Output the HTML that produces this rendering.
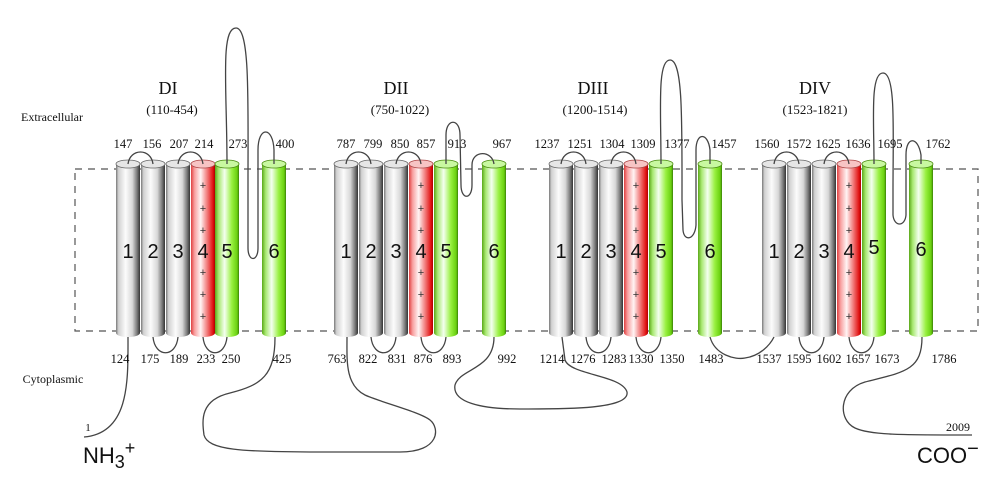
<!DOCTYPE html>
<html><head><meta charset="utf-8"><style>
html,body{margin:0;padding:0;background:#fff;}
svg{display:block;}
.n{font-family:"Liberation Serif",serif;font-size:12.5px;fill:#111;text-anchor:middle;}
.t{font-family:"Liberation Serif",serif;font-size:18px;fill:#111;text-anchor:middle;}
.r{font-family:"Liberation Serif",serif;font-size:13px;fill:#111;text-anchor:middle;}
.c{font-family:"Liberation Sans",sans-serif;font-size:20px;fill:#111;text-anchor:middle;}
.p{font-family:"Liberation Sans",sans-serif;font-size:11px;fill:#333;text-anchor:middle;}
.l{fill:none;stroke:#444;stroke-width:1.3;}
</style></head><body>
<svg width="1000" height="500" viewBox="0 0 1000 500" xmlns="http://www.w3.org/2000/svg">
<defs>
<linearGradient id="gg" x1="0" x2="1" y1="0" y2="0">
<stop offset="0" stop-color="#777"/><stop offset="0.1" stop-color="#d0d0d0"/><stop offset="0.4" stop-color="#fcfcfc"/><stop offset="0.68" stop-color="#d8d8d8"/><stop offset="0.88" stop-color="#777"/><stop offset="1" stop-color="#333"/>
</linearGradient>
<linearGradient id="gr" x1="0" x2="1" y1="0" y2="0">
<stop offset="0" stop-color="#e04040"/><stop offset="0.15" stop-color="#f8a0a0"/><stop offset="0.4" stop-color="#fff4f4"/><stop offset="0.7" stop-color="#f07070"/><stop offset="0.92" stop-color="#e01010"/><stop offset="1" stop-color="#a00"/>
</linearGradient>
<linearGradient id="gn" x1="0" x2="1" y1="0" y2="0">
<stop offset="0" stop-color="#5aa818"/><stop offset="0.15" stop-color="#a8e870"/><stop offset="0.4" stop-color="#f4fff0"/><stop offset="0.7" stop-color="#98f040"/><stop offset="0.92" stop-color="#6ad010"/><stop offset="1" stop-color="#3a8008"/>
</linearGradient>
<g id="cg"><rect x="0" y="164" width="24" height="169" fill="url(#gg)"/><ellipse cx="12" cy="333" rx="12" ry="4" fill="url(#gg)"/><ellipse cx="12" cy="164" rx="12" ry="4" fill="#e6e6e6" stroke="#666" stroke-width="0.8"/></g>
<g id="cr"><rect x="0" y="164" width="24" height="169" fill="url(#gr)"/><ellipse cx="12" cy="333" rx="12" ry="4" fill="url(#gr)"/><ellipse cx="12" cy="164" rx="12" ry="4" fill="#f7c4c4" stroke="#a44" stroke-width="0.8"/>
<text class="p" x="12" y="189">+</text><text class="p" x="12" y="212">+</text><text class="p" x="12" y="234">+</text><text class="p" x="12" y="276">+</text><text class="p" x="12" y="298">+</text><text class="p" x="12" y="320">+</text></g>
<g id="cn"><rect x="0" y="164" width="24" height="169" fill="url(#gn)"/><ellipse cx="12" cy="333" rx="12" ry="4" fill="url(#gn)"/><ellipse cx="12" cy="164" rx="12" ry="4" fill="#c8f8a0" stroke="#4a8a10" stroke-width="0.8"/></g>
</defs>

<rect x="75" y="169" width="903" height="162" fill="none" stroke="#555" stroke-width="1.2" stroke-dasharray="7 6"/>

<use href="#cg" x="116"/><use href="#cg" x="141"/><use href="#cg" x="166"/><use href="#cr" x="191"/><use href="#cn" x="215"/><use href="#cn" x="262"/>
<use href="#cg" x="334"/><use href="#cg" x="359"/><use href="#cg" x="384"/><use href="#cr" x="409"/><use href="#cn" x="434"/><use href="#cn" x="482"/>
<use href="#cg" x="549"/><use href="#cg" x="574"/><use href="#cg" x="599"/><use href="#cr" x="624"/><use href="#cn" x="649"/><use href="#cn" x="698"/>
<use href="#cg" x="762"/><use href="#cg" x="787"/><use href="#cg" x="812"/><use href="#cr" x="837"/><use href="#cn" x="862"/><use href="#cn" x="909"/>

<g class="c">
<text x="128" y="258">1</text><text x="153" y="258">2</text><text x="178" y="258">3</text><text x="203" y="258">4</text><text x="227" y="258">5</text><text x="274" y="258">6</text>
<text x="346" y="258">1</text><text x="371" y="258">2</text><text x="396" y="258">3</text><text x="421" y="258">4</text><text x="446" y="258">5</text><text x="494" y="258">6</text>
<text x="561" y="258">1</text><text x="586" y="258">2</text><text x="611" y="258">3</text><text x="636" y="258">4</text><text x="661" y="258">5</text><text x="710" y="258">6</text>
<text x="774" y="258">1</text><text x="799" y="258">2</text><text x="824" y="258">3</text><text x="849" y="258">4</text><text x="874" y="254">5</text><text x="921" y="256">6</text>
</g>

<g class="l">
<path d="M128,164 C130,148 151,148 153,164"/><path d="M178,164 C180,148 201,148 203,164"/>
<path d="M346,164 C348,148 369,148 371,164"/><path d="M396,164 C398,148 419,148 421,164"/>
<path d="M561,164 C563,148 584,148 586,164"/><path d="M611,164 C613,148 634,148 636,164"/>
<path d="M774,164 C776,148 797,148 799,164"/><path d="M824,164 C826,148 847,148 849,164"/>
<path d="M153,337 C155,358 176,358 178,337"/><path d="M203,337 C205,358 225,358 227,337"/>
<path d="M371,337 C373,358 394,358 396,337"/><path d="M421,337 C423,358 444,358 446,337"/>
<path d="M586,337 C588,358 609,358 611,337"/><path d="M636,337 C638,358 659,358 661,337"/>
<path d="M799,337 C801,358 822,358 824,337"/><path d="M849,337 C851,358 872,358 874,337"/>
<path d="M227,164 C227,90 220,28 236,28 C250,28 248,100 248,180 L248,248 C248,262 258,262 258,248 L258,150 C258,126 273,126 274,150 L274,164"/>
<path d="M446,164 L446,135 C446,118 460,118 460,135 L461,185 C461,200 472,200 472,185 L472,165 C472,150 492,150 494,164"/>
<path d="M661,164 C661,110 657,60 670,60 C683,60 682,120 682,200 L683,230 C684,242 695,240 696,225 L696,150 C696,132 708,132 710,150 L710,164"/>
<path d="M874,164 C874,120 870,73 883,73 C896,73 893,130 893,190 L893,215 C894,227 905,227 906,215 L906,155 C906,136 918,136 921,155 L921,164"/>
<path d="M128,337 C128,380 130,433 84,437"/>
<path d="M275,337 C275,375 262,385 230,393 C200,400 202,420 204,435 C208,450 240,452 320,452 L400,452 C440,452 440,428 430,420 C420,412 380,402 365,395 C345,385 347,360 347,337"/>
<path d="M494,337 C494,370 460,368 455,385 C452,402 480,409 520,409 C560,409 630,410 627,392 C622,375 570,375 565,360 L562,337"/>
<path d="M710,337 C715,355 735,360 745,358 C760,356 770,345 774,337"/>
<path d="M922,337 C922,370 905,372 865,382 C838,390 838,420 855,428 C870,435 900,435 972,435"/>
</g>

<text class="t" x="168" y="94">DI</text><text class="r" x="172" y="114">(110-454)</text>
<text class="t" x="396" y="94">DII</text><text class="r" x="400" y="114">(750-1022)</text>
<text class="t" x="593" y="94">DIII</text><text class="r" x="595" y="114">(1200-1514)</text>
<text class="t" x="815" y="94">DIV</text><text class="r" x="815" y="114">(1523-1821)</text>
<text class="n" x="52" y="121" style="font-size:12px">Extracellular</text>
<text class="n" x="53" y="383" style="font-size:12px">Cytoplasmic</text>

<g class="n">
<text x="123" y="148">147</text><text x="152" y="148">156</text><text x="179" y="148">207</text><text x="204" y="148">214</text><text x="238" y="148">273</text><text x="285" y="148">400</text>
<text x="346" y="148">787</text><text x="373" y="148">799</text><text x="400" y="148">850</text><text x="426" y="148">857</text><text x="457" y="148">913</text><text x="502" y="148">967</text>
<text x="547" y="148">1237</text><text x="580" y="148">1251</text><text x="612" y="148">1304</text><text x="643" y="148">1309</text><text x="677" y="148">1377</text><text x="724" y="148">1457</text>
<text x="767" y="148">1560</text><text x="799" y="148">1572</text><text x="828" y="148">1625</text><text x="858" y="148">1636</text><text x="890" y="148">1695</text><text x="938" y="148">1762</text>
</g>
<g class="n">
<text x="120" y="363">124</text><text x="150" y="363">175</text><text x="179" y="363">189</text><text x="206" y="363">233</text><text x="231" y="363">250</text><text x="282" y="363">425</text>
<text x="337" y="363">763</text><text x="368" y="363">822</text><text x="397" y="363">831</text><text x="423" y="363">876</text><text x="452" y="363">893</text><text x="507" y="363">992</text>
<text x="552" y="363">1214</text><text x="583" y="363">1276</text><text x="614" y="363">1283</text><text x="641" y="363">1330</text><text x="672" y="363">1350</text><text x="711" y="363">1483</text>
<text x="769" y="363">1537</text><text x="799" y="363">1595</text><text x="829" y="363">1602</text><text x="858" y="363">1657</text><text x="887" y="363">1673</text><text x="944" y="363">1786</text>
</g>
<text class="n" x="88" y="431" style="font-size:11px">1</text>
<text class="n" x="958" y="431" style="font-size:12px">2009</text>
<text x="83" y="463" style="font-family:'Liberation Sans',sans-serif;font-size:22px;fill:#111">NH<tspan font-size="18" dy="5">3</tspan><tspan font-size="18" dy="-14">+</tspan></text>
<text x="917" y="463" style="font-family:'Liberation Sans',sans-serif;font-size:22px;fill:#111">COO<tspan dy="-8" font-size="20">−</tspan></text>
</svg>
</body></html>
